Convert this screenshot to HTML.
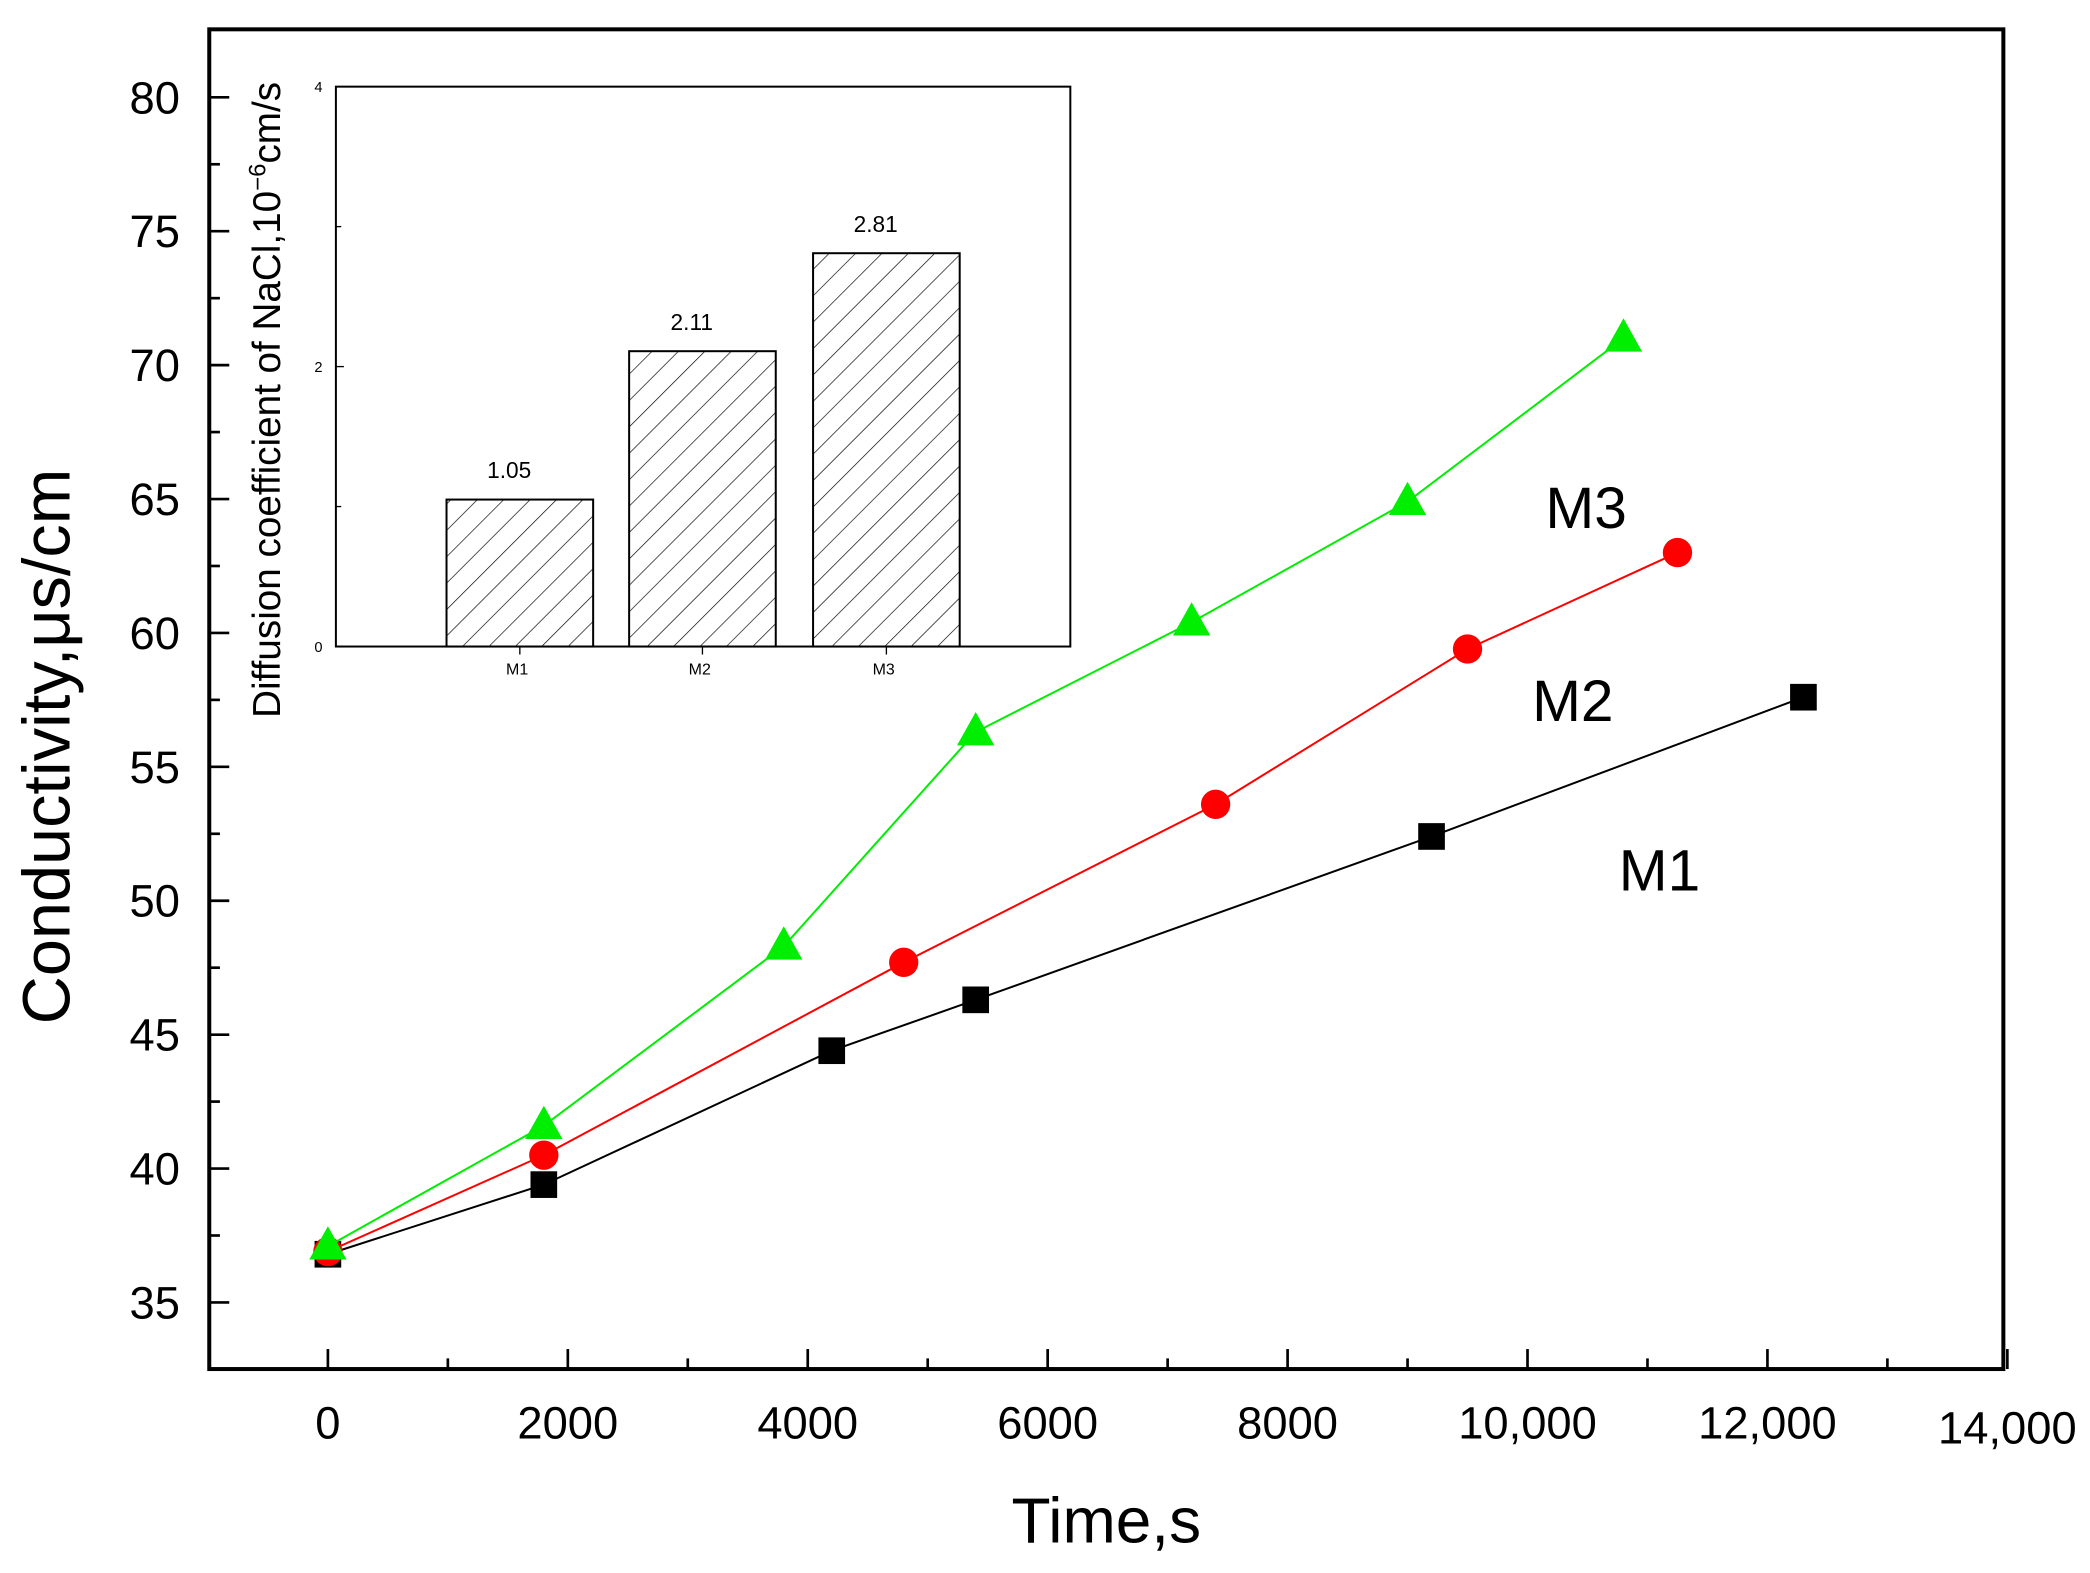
<!DOCTYPE html>
<html><head><meta charset="utf-8"><style>
html,body{margin:0;padding:0;background:#fff;}
svg{display:block;font-family:"Liberation Sans",Arial,sans-serif;}
</style></head><body>
<svg id="chart" width="2090" height="1573" viewBox="0 0 1568 1180" preserveAspectRatio="none" xmlns="http://www.w3.org/2000/svg">
<defs>
<pattern id="hatch" patternUnits="userSpaceOnUse" width="14" height="14" patternTransform="rotate(45)">
<line x1="0" y1="0" x2="0" y2="14" stroke="#000" stroke-width="1"/>
</pattern>
</defs>
<g id="main"></g>
</svg>
<script>
const xTicks=[0,2000,4000,6000,8000,10000,12000,14000];
const xTickLabels=["0","2000","4000","6000","8000","10,000","12,000","14,000"];
const yTicks=[35,40,45,50,55,60,65,70,75,80];
const m1X=[0,1800,4200,5400,9200,12300];
const m1Y=[36.8,39.4,44.4,46.3,52.4,57.6];
const m2X=[0,1800,4800,7400,9500,11250];
const m2Y=[36.9,40.5,47.7,53.6,59.4,63.0];
const m3X=[0,1800,3800,5400,7200,9000,10800];
const m3Y=[37.1,41.6,48.3,56.3,60.4,64.9,71.0];
const insetCats=["M1","M2","M3"];
const insetVals=[1.05,2.11,2.81];
const insetYTicks=[0,2,4];

const NS="http://www.w3.org/2000/svg";
const g=document.getElementById('main');
function el(tag,attrs,parent,text){const e=document.createElementNS(NS,tag);for(const k in attrs)e.setAttribute(k,attrs[k]);if(text!==undefined)e.textContent=text;(parent||g).appendChild(e);return e;}
const sx=v=>246+v*0.09;
const sy=v=>73+(80-v)*20.09;

let f=el('rect',{x:157,y:22,width:1346,height:1005,fill:'none',stroke:'#000','stroke-width':3});


xTicks.forEach((v,i)=>{
  el('line',{x1:sx(v),y1:1027,x2:sx(v),y2:1012,stroke:'#000','stroke-width':2});
  if(i<xTicks.length-1) el('line',{x1:sx(v+1000),y1:1027,x2:sx(v+1000),y2:1019,stroke:'#000','stroke-width':2});
  const t=el('text',{x:sx(v),y:i==xTicks.length-1?1083:1079,'font-size':34,'text-anchor':'middle'},g,xTickLabels[i]);
  
});
yTicks.forEach((v,i)=>{
  el('line',{x1:157,y1:sy(v),x2:172,y2:sy(v),stroke:'#000','stroke-width':2});
  if(i<yTicks.length-1) el('line',{x1:157,y1:sy(v+2.5),x2:165,y2:sy(v+2.5),stroke:'#000','stroke-width':2});
  const t=el('text',{x:135,y:sy(v)+12,'font-size':34,'text-anchor':'end'},g,String(v));
  
});
let xt=el('text',{x:830,y:1157,'font-size':48,'text-anchor':'middle'},g,'Time,s');

let yt=el('text',{x:0,y:0,'font-size':50,'text-anchor':'middle',transform:'translate(52,560) rotate(-90)'},g,'Conductivity,μs/cm');


function series(xs,ys,color,shape,name){
  const pts=xs.map((x,i)=>sx(x)+','+sy(ys[i])).join(' ');
  const l=el('polyline',{points:pts,fill:'none',stroke:color,'stroke-width':1.5});
  
  xs.forEach((x,i)=>{
    const cx=sx(x),cy=sy(ys[i]);let m;
    if(shape==='sq') m=el('rect',{x:cx-10,y:cy-10,width:20,height:20,fill:color});
    else if(shape==='ci') m=el('circle',{cx:cx,cy:cy,r:11,fill:color});
    else m=el('polygon',{points:`${cx},${cy-15} ${cx-14},${cy+10} ${cx+14},${cy+10}`,fill:color});
    
  });
}
series(m1X,m1Y,'#000','sq','m1');
series(m2X,m2Y,'#ff0000','ci','m2');
series(m3X,m3Y,'#00ee00','tr','m3');
[['M3',1190,396],['M2',1180,541],['M1',1245,668]].forEach(a=>{
  const t=el('text',{x:a[1],y:a[2],'font-size':44,'text-anchor':'middle'},g,a[0]);
  
});

const iy=v=>485-v*105;
let ifr=el('rect',{x:252,y:65,width:551,height:420,fill:'none',stroke:'#000','stroke-width':1.5});

insetYTicks.forEach(v=>{
  el('line',{x1:252,y1:iy(v),x2:258,y2:iy(v),stroke:'#000','stroke-width':1});
  if(v<4) el('line',{x1:252,y1:iy(v+1),x2:256,y2:iy(v+1),stroke:'#000','stroke-width':1});
  const t=el('text',{x:242,y:iy(v)+4,'font-size':11,'text-anchor':'end'},g,String(v));
  
});
const centers=[390,527,665];
insetCats.forEach((c,i)=>{
  const cx=centers[i],h=insetVals[i];
  const r=el('rect',{x:cx-55,y:iy(h),width:110,height:485-iy(h),fill:'url(#hatch)',stroke:'#000','stroke-width':1.5});
  
  const v=el('text',{x:cx-8,y:iy(h)-16,'font-size':17,'text-anchor':'middle'},g,insetVals[i].toFixed(2));
  
  el('line',{x1:cx,y1:485,x2:cx,y2:491,stroke:'#000','stroke-width':1});
  const t=el('text',{x:cx-2,y:506,'font-size':12,'text-anchor':'middle'},g,c);
  
});
let it=el('text',{x:0,y:0,'font-size':29,'text-anchor':'middle',transform:'translate(210,300) rotate(-90)'},g,'');

it.appendChild(document.createTextNode('Diffusion coefficient of NaCl,10'));
const sup=el('tspan',{'font-size':18,dy:-11},it,'−6');
const rest=el('tspan',{dy:11},it,'cm/s');
</script>
</body></html>
